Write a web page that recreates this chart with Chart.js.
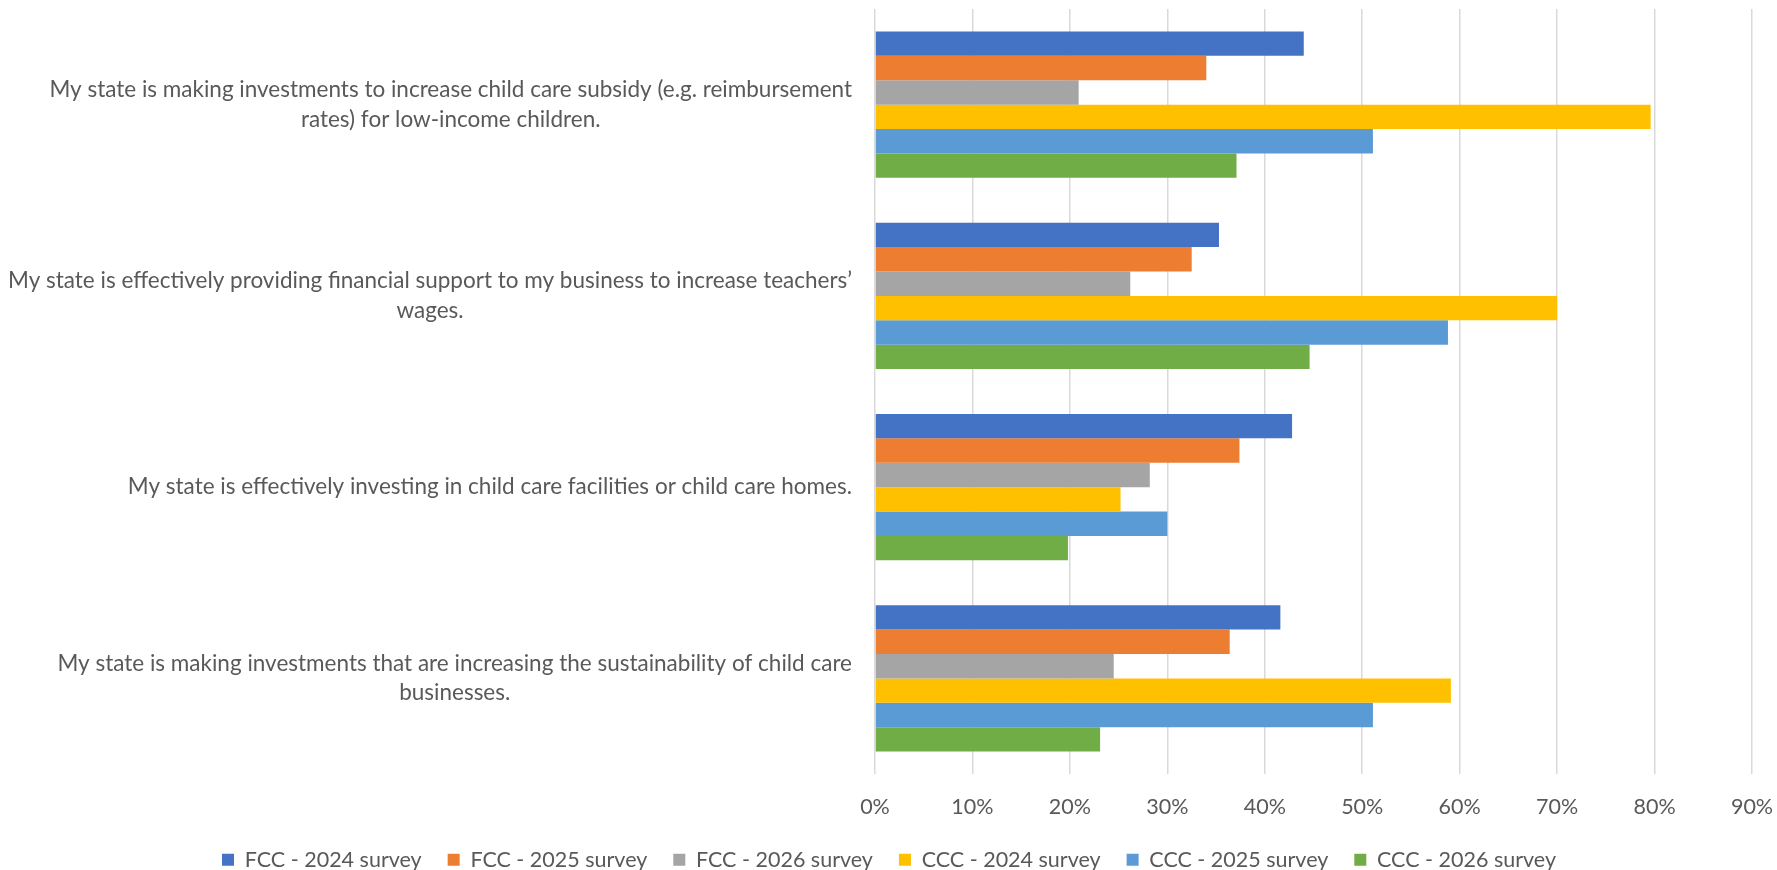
<!DOCTYPE html>
<html>
<head>
<meta charset="utf-8">
<script src="https://cdn.jsdelivr.net/npm/chart.js@4"></script>
<style>
  html, body { margin: 0; padding: 0; background: #ffffff; }
  #wrap { width: 1777px; height: 870px; position: relative; }
</style>
</head>
<body>
<div id="wrap"><canvas id="surveyChart"></canvas></div>
<script>
// statements, one entry per line of wrapped text
const categories = [
    ["My state is making investments to increase child care subsidy (e.g. reimbursement", "rates) for low-income children."],
    ["My state is effectively providing financial support to my business to increase teachers\u2019", "wages."],
    ["My state is effectively investing in child care facilities or child care homes."],
    ["My state is making investments that are increasing the sustainability of child care", "businesses."]
];

// share of respondents who agree, in %
const fcc2024 = [44.0, 35.3, 42.8, 41.6];
const fcc2025 = [34.0, 32.5, 37.4, 36.4];
const fcc2026 = [20.9, 26.2, 28.2, 24.5];
const ccc2024 = [79.6, 70.0, 25.2, 59.1];
const ccc2025 = [51.1, 58.8, 30.0, 51.1];
const ccc2026 = [37.1, 44.6, 19.8, 23.1];

const seriesNames = [
    "FCC - 2024 survey", "FCC - 2025 survey", "FCC - 2026 survey",
    "CCC - 2024 survey", "CCC - 2025 survey", "CCC - 2026 survey"
];
const seriesColors = ["#4472C4", "#ED7D31", "#A5A5A5", "#FFC000", "#5B9BD5", "#70AD47"];

const xMin = 0;
const xMax = 90;
const xStep = 10;

const FONT = "Lato";
const TEXT_COLOR = "#595959";
const LEGEND_PAD = 26;
const LEGEND_HEIGHT = 47;
const PLOT_LEFT = 875;
const PLOT_BOTTOM = 774;
const PAD_LEFT = 26;

// category labels: block right-aligned to the axis, lines centred inside the block
const statementLabels = {
    id: "statementLabels",
    afterDraw(chart) {
        const ctx = chart.ctx;
        const yScale = chart.scales.y;
        const right = chart.chartArea.left - 23;
        const lineStep = 29.5;
        ctx.save();
        ctx.font = "22.5px " + FONT;
        ctx.fillStyle = TEXT_COLOR;
        ctx.textAlign = "center";
        ctx.textBaseline = "middle";
        categories.forEach((lines, i) => {
            const cy = yScale.getPixelForTick(i);
            const blockWidth = Math.max(...lines.map(l => ctx.measureText(l).width));
            const cx = right - blockWidth / 2;
            const top = cy - (lines.length - 1) * lineStep / 2;
            lines.forEach((line, j) => ctx.fillText(line, cx, top + j * lineStep));
        });
        ctx.restore();
    }
};

const values = [fcc2024, fcc2025, fcc2026, ccc2024, ccc2025, ccc2026];

new Chart(document.getElementById("surveyChart"), {
    type: "bar",
    data: {
        labels: categories,
        datasets: values.map((data, i) => ({
            label: seriesNames[i],
            data,
            backgroundColor: seriesColors[i],
            borderWidth: 0,
            categoryPercentage: 0.765,
            barPercentage: 1.0
        }))
    },
    options: {
        indexAxis: "y",
        responsive: true,
        maintainAspectRatio: false,
        animation: false,
        layout: {
            padding: { top: 9, right: 25, bottom: 0, left: PAD_LEFT }
        },
        plugins: {
            legend: {
                position: "bottom",
                maxHeight: LEGEND_HEIGHT,
                labels: {
                    boxWidth: 12,
                    boxHeight: 12,
                    padding: LEGEND_PAD,
                    color: TEXT_COLOR,
                    font: { family: FONT, size: 21.5 }
                }
            },
            tooltip: { enabled: false }
        },
        scales: {
            x: {
                min: xMin,
                max: xMax,
                ticks: {
                    stepSize: xStep,
                    padding: 0,
                    color: TEXT_COLOR,
                    font: { family: FONT, size: 21.5 },
                    callback: v => v + "%"
                },
                grid: {
                    color: "#d9d9d9",
                    lineWidth: 1.5,
                    tickLength: 20,
                    tickColor: "rgba(0,0,0,0)"
                },
                border: { display: false },
                afterFit(scale) {
                    scale.height = 870 - LEGEND_HEIGHT - PLOT_BOTTOM;
                }
            },
            y: {
                grid: { display: false },
                border: { display: false },
                ticks: { display: false },
                afterFit(scale) {
                    scale.width = PLOT_LEFT - PAD_LEFT;
                }
            }
        }
    },
    plugins: [statementLabels]
});
</script>
</body>
</html>
